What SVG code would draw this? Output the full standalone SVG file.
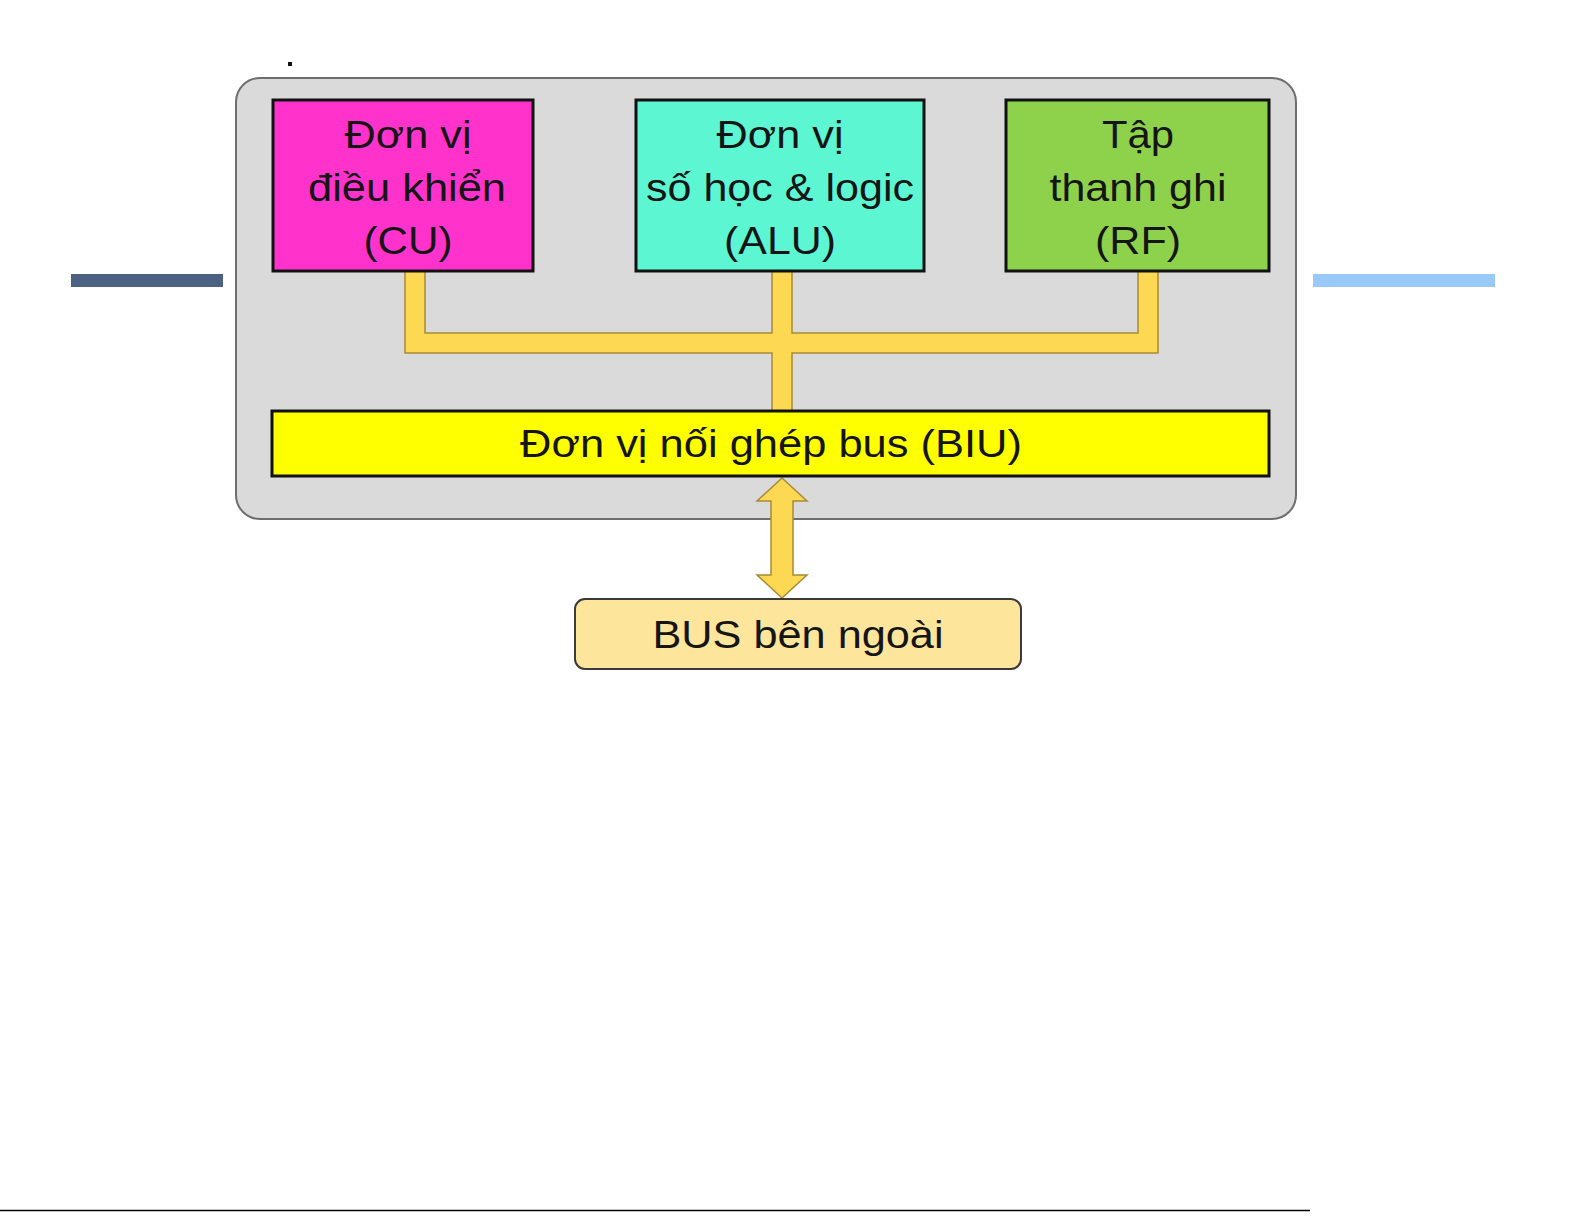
<svg xmlns="http://www.w3.org/2000/svg" width="1585" height="1225" viewBox="0 0 1585 1225">
  <style>
    .lbl { font-family: "Liberation Sans", Arial, sans-serif; font-size: 38px; fill: #151515; text-anchor: middle; }
    .unit { stroke: #111; stroke-width: 3; }
    .bus { fill: #fdd853; stroke: #a88a35; stroke-width: 1.5; stroke-linejoin: miter; }
  </style>
  <rect width="1585" height="1225" fill="#ffffff"/>
  <rect x="71" y="274" width="152" height="13" fill="#4b6282"/>
  <rect x="1313" y="274" width="182" height="13" fill="#99c9f6"/>
  <line x1="0" y1="1210.5" x2="1310" y2="1210.5" stroke="#000" stroke-width="1.5"/>
  <rect x="288" y="62" width="4" height="4" fill="#111"/>

  <g id="cpu">
    <rect x="236" y="78" width="1060" height="441" rx="24" ry="24" fill="#dadada" stroke="#6e6e6e" stroke-width="2"/>
  </g>

  <g id="connectors">
    <path class="bus" d="M405,271 V353 H772 V411 H792 V353 H1158 V271 H1138 V333 H792 V271 H772 V333 H425 V271 Z"/>
    <path class="bus" d="M782,478 L807,501 H793 V575 H807 L782,598 L757,575 H771 V501 H757 Z"/>
  </g>

  <g id="cu">
    <rect class="unit" x="273" y="100" width="260" height="171" fill="#ff33cc"/>
    <text class="lbl" x="408" y="148" textLength="127" lengthAdjust="spacingAndGlyphs">Đơn vị</text>
    <text class="lbl" x="407" y="201" textLength="198" lengthAdjust="spacingAndGlyphs">điều khiển</text>
    <text class="lbl" x="408" y="254" textLength="89" lengthAdjust="spacingAndGlyphs">(CU)</text>
  </g>

  <g id="alu">
    <rect class="unit" x="636" y="100" width="288" height="171" fill="#5cf7d2"/>
    <text class="lbl" x="780" y="148" textLength="127" lengthAdjust="spacingAndGlyphs">Đơn vị</text>
    <text class="lbl" x="780" y="201" textLength="268" lengthAdjust="spacingAndGlyphs">số học &amp; logic</text>
    <text class="lbl" x="780" y="254" textLength="112" lengthAdjust="spacingAndGlyphs">(ALU)</text>
  </g>

  <g id="rf">
    <rect class="unit" x="1006" y="100" width="263" height="171" fill="#8ed24c"/>
    <text class="lbl" x="1138" y="148" textLength="72" lengthAdjust="spacingAndGlyphs">Tập</text>
    <text class="lbl" x="1138" y="201" textLength="177" lengthAdjust="spacingAndGlyphs">thanh ghi</text>
    <text class="lbl" x="1138" y="254" textLength="86" lengthAdjust="spacingAndGlyphs">(RF)</text>
  </g>

  <g id="biu">
    <rect class="unit" x="272" y="411" width="997" height="65" fill="#ffff00"/>
    <text class="lbl" x="771" y="457" textLength="502" lengthAdjust="spacingAndGlyphs">Đơn vị nối ghép bus (BIU)</text>
  </g>

  <g id="extbus">
    <rect x="575" y="599" width="446" height="70" rx="10" ry="10" fill="#fde69b" stroke="#3a3a3a" stroke-width="2"/>
    <text class="lbl" x="798" y="648" textLength="291" lengthAdjust="spacingAndGlyphs">BUS bên ngoài</text>
  </g>
</svg>
